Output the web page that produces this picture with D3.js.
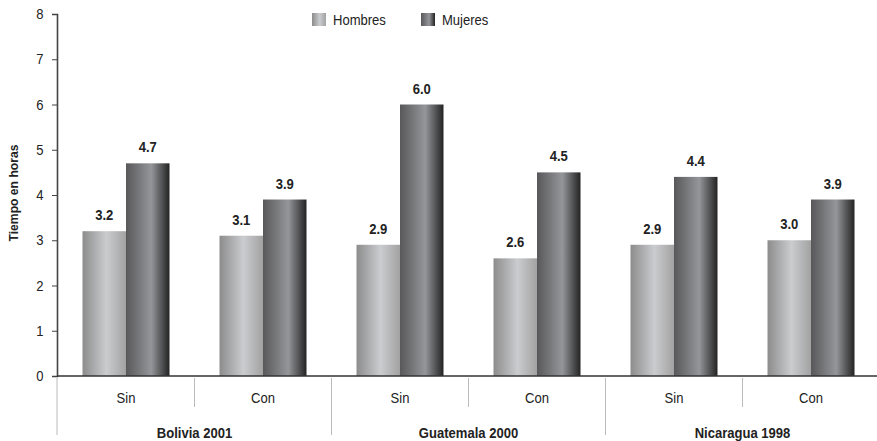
<!DOCTYPE html>
<html>
<head>
<meta charset="utf-8">
<script src="https://cdn.jsdelivr.net/npm/d3@7"></script>
<style>
  body { margin: 0; background: #fff; }
  svg { display: block; font-family: "Liberation Sans", Arial, sans-serif; }
</style>
</head>
<body>
<svg id="chart" width="877" height="441"></svg>
<script>
// data
const countries = ["Bolivia 2001", "Guatemala 2000", "Nicaragua 1998"];
const subgroups = ["Sin", "Con"];
const series = ["Hombres", "Mujeres"];
const hombres = [3.2, 3.1, 2.9, 2.6, 2.9, 3.0];
const mujeres = [4.7, 3.9, 6.0, 4.5, 4.4, 3.9];
const yTicks = [0, 1, 2, 3, 4, 5, 6, 7, 8];

const svg = d3.select("#chart");
const width = 877, height = 441;
const margin = { left: 57, top: 14, bottom: 65 };
const y0 = height - margin.bottom; // baseline
const squeeze = 0.9; // narrow look of the original font

// one row per country/subgroup pair
const rows = [];
countries.forEach((c, ci) => subgroups.forEach((s, si) => {
    const i = ci * subgroups.length + si;
    rows.push({ key: c + "|" + s, country: c, sub: s, first: si === 0, values: [hombres[i], mujeres[i]] });
}));

const x = d3.scaleBand()
    .domain(rows.map(d => d.key))
    .range([margin.left + 0.5, margin.left + 0.5 + 822])
    .paddingInner(0.365)
    .paddingOuter(0.1825);

const xs = d3.scaleBand().domain(series).range([0, x.bandwidth()]);

const y = d3.scaleLinear().domain([0, 8]).range([y0, margin.top]);

const at = (px, py) => `translate(${px},${py}) scale(${squeeze},1)`;

// gradients
const defs = svg.append("defs");
const grads = {
    Hombres: [["0%", "#8c8c8c"], ["55%", "#cbcccf"], ["100%", "#a2a2a2"]],
    Mujeres: [["0%", "#58585a"], ["58%", "#95969a"], ["100%", "#232323"]]
};
series.forEach(s => {
    const g = defs.append("linearGradient").attr("id", "g-" + s)
        .attr("x1", "0%").attr("x2", "100%").attr("y1", "0%").attr("y2", "0%");
    grads[s].forEach(([o, c]) => g.append("stop").attr("offset", o).attr("stop-color", c));
});

// y axis
const yAxis = svg.append("g")
    .attr("transform", `translate(${margin.left},0)`)
    .call(d3.axisLeft(y).tickValues(yTicks).tickSize(5).tickPadding(10));
yAxis.select(".domain").attr("stroke", "#444").attr("stroke-width", 1.6);
yAxis.selectAll(".tick line").attr("stroke", "#444");
yAxis.selectAll(".tick text")
    .attr("font-size", 14.5).attr("fill", "#222")
    .attr("font-family", null)
    .attr("transform", `scale(${squeeze},1)`);

svg.append("text")
    .attr("transform", `translate(18,${(y(0) + y(8)) / 2 - 2}) rotate(-90) scale(${squeeze},1)`)
    .attr("text-anchor", "middle")
    .attr("font-size", 13.5).attr("font-weight", "bold").attr("fill", "#222")
    .text("Tiempo en horas");

// bars
const groups = svg.append("g").selectAll("g.grp")
    .data(rows)
    .join("g")
    .attr("class", "grp")
    .attr("transform", d => `translate(${x(d.key)},0)`);

groups.selectAll("rect")
    .data(d => d.values.map((v, i) => ({ s: series[i], v })))
    .join("rect")
    .attr("x", d => xs(d.s))
    .attr("width", xs.bandwidth())
    .attr("y", d => y(d.v))
    .attr("height", d => y(0) - y(d.v))
    .attr("fill", d => `url(#g-${d.s})`);

groups.selectAll("text.val")
    .data(d => d.values.map((v, i) => ({ s: series[i], v })))
    .join("text")
    .attr("class", "val")
    .attr("transform", d => at(xs(d.s) + xs.bandwidth() / 2, y(d.v) - 11))
    .attr("text-anchor", "middle")
    .attr("font-size", 14.5).attr("font-weight", "bold").attr("fill", "#222")
    .text(d => d3.format(".1f")(d.v));

// x axis baseline
svg.append("line")
    .attr("x1", margin.left).attr("x2", width)
    .attr("y1", y(0)).attr("y2", y(0))
    .attr("stroke", "#333").attr("stroke-width", 1.6);

// category separators: short between Sin/Con, long between countries
const gap = x.step() * x.paddingInner() / 2;
const seps = rows.map((d, i) => ({
    pos: i === 0 ? margin.left : x(d.key) - gap,
    long: d.first
}));
svg.append("g").selectAll("line")
    .data(seps)
    .join("line")
    .attr("x1", d => d.pos).attr("x2", d => d.pos)
    .attr("y1", y(0) + 2)
    .attr("y2", d => d.long ? height - 6 : y(0) + 31)
    .attr("stroke", "#bbb").attr("stroke-width", 1);

// sub labels
svg.append("g").selectAll("text")
    .data(rows)
    .join("text")
    .attr("transform", d => at(x(d.key) + x.bandwidth() / 2, y(0) + 27))
    .attr("text-anchor", "middle")
    .attr("font-size", 14.5).attr("fill", "#222")
    .text(d => d.sub);

// country labels
svg.append("g").selectAll("text")
    .data(countries)
    .join("text")
    .attr("transform", c => {
        const ks = rows.filter(r => r.country === c);
        return at((x(ks[0].key) + x(ks[ks.length - 1].key) + x.bandwidth()) / 2, height - 3);
    })
    .attr("text-anchor", "middle")
    .attr("font-size", 14.5).attr("font-weight", "bold").attr("fill", "#222")
    .text(c => c);

// legend
const legend = svg.append("g").attr("transform", "translate(312,13)");
const li = legend.selectAll("g")
    .data(series)
    .join("g")
    .attr("transform", (d, i) => `translate(${i * 109},0)`);
li.append("rect")
    .attr("width", 14).attr("height", 13)
    .attr("fill", d => `url(#g-${d})`);
li.append("text")
    .attr("transform", at(21, 12))
    .attr("font-size", 14.5).attr("fill", "#222")
    .text(d => d);
</script>
</body>
</html>
